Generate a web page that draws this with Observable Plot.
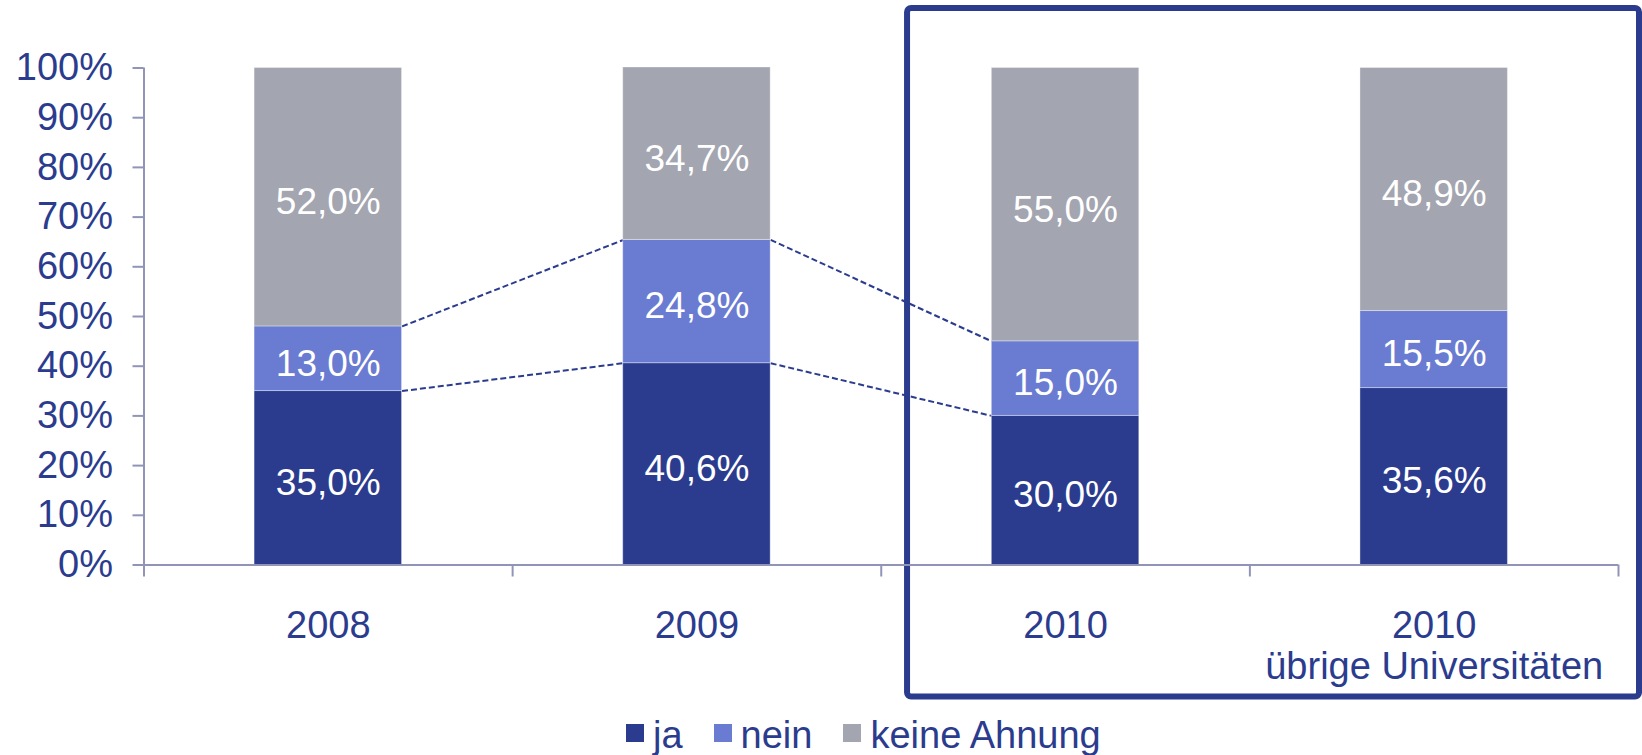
<!DOCTYPE html>
<html>
<head>
<meta charset="utf-8">
<script src="https://cdn.jsdelivr.net/npm/d3@7"></script>
<script src="https://cdn.jsdelivr.net/npm/@observablehq/plot@0.6"></script>
<style>
  html, body { margin: 0; padding: 0; background: #fff; }
  body { width: 1642px; height: 755px; overflow: hidden; font-family: "Liberation Sans", Arial, sans-serif; }
  #legend { display: flex; align-items: center; margin-top: 11px; margin-left: 626px; font-size: 38px; line-height: 38px; color: #2b3c8e; }
  #legend .item { display: flex; align-items: center; margin-right: 31px; }
  #legend .sw { width: 18px; height: 18px; margin-right: 9px; position: relative; top: -2px; }
</style>
</head>
<body>
<div id="chart"></div>
<div id="legend"></div>
<script>
// ---- data ----
const categories = ["2008", "2009", "2010", "2010\nübrige Universitäten"];
const series = ["ja", "nein", "keine Ahnung"];
const ja = [35.0, 40.6, 30.0, 35.6];
const nein = [13.0, 24.8, 15.0, 15.5];
const keineAhnung = [52.0, 34.7, 55.0, 48.9];
const colors = ["#2b3c8e", "#6a7bd2", "#a3a5b0"];
const yTicks = [0, 10, 20, 30, 40, 50, 60, 70, 80, 90, 100];
const connectedCategories = [0, 1, 2];   // joined by dashed lines
const connectedSeries = ["ja", "nein"];  // tops of these segments are joined
const highlighted = [2, 3];              // framed categories

// ---- derived tables ----
const values = {"ja": ja, "nein": nein, "keine Ahnung": keineAhnung};
const half = 0.2; // half bar width in category units
const rows = [];
const tops = {};
categories.forEach((c, i) => {
  let cum = 0;
  series.forEach(s => {
    const v = values[s][i];
    rows.push({i, series: s, y1: cum, y2: cum + v, label: v.toFixed(1).replace(".", ",") + "%"});
    cum += v;
    (tops[s] ??= [])[i] = cum;
  });
});
const links = [];
for (let j = 0; j < connectedCategories.length - 1; j++) {
  const a = connectedCategories[j], b = connectedCategories[j + 1];
  connectedSeries.forEach(s => links.push({x1: a + half, x2: b - half, y1: tops[s][a], y2: tops[s][b]}));
}
const boundaries = d3.range(-0.5, categories.length, 1);
const centers = categories.map((c, i) => i);

const navy = "#2b3c8e";
const axisColor = "#9095b8";

const plot = Plot.plot({
  width: 1642,
  height: 705,
  marginLeft: 143.5,
  marginRight: 24,
  marginTop: 67.5,
  marginBottom: 140.5,
  style: {fontFamily: '"Liberation Sans", Arial, sans-serif', color: navy, background: "white", overflow: "visible"},
  x: {type: "linear", domain: [-0.5, categories.length - 0.5]},
  y: {domain: [0, 100]},
  color: {domain: series, range: colors},
  marks: [
    Plot.rect([highlighted], {
      x1: d => d[0] - 0.5, x2: d => d[d.length - 1] + 0.5, y1: 0, y2: 100,
      insetLeft: 26.3, insetRight: -21, insetTop: -59.5, insetBottom: -132,
      fill: "none", stroke: navy, strokeWidth: 6, rx: 4
    }),
    Plot.link(links, {x1: "x1", x2: "x2", y1: "y1", y2: "y2", stroke: navy, strokeWidth: 2, strokeDasharray: "6,3"}),
    Plot.rect(rows, {x1: d => d.i - half, x2: d => d.i + half, y1: "y1", y2: "y2", fill: "series", stroke: "white", strokeOpacity: 0.35, strokeWidth: 1}),
    Plot.text(rows, {x: "i", y: d => (d.y1 + d.y2) / 2, text: "label", fill: "white", fontSize: 37, dy: 5}),
    Plot.ruleX([-0.5], {y1: 0, y2: 100, stroke: axisColor, strokeWidth: 2}),
    Plot.ruleY([0], {stroke: axisColor, strokeWidth: 2}),
    Plot.axisY({ticks: yTicks, tickFormat: d => `${d}%`, tickSize: 11, tickPadding: 20, fontSize: 38, stroke: axisColor, strokeWidth: 2, label: null}),
    Plot.axisX({ticks: boundaries, tickFormat: () => "", tickSize: 12, stroke: axisColor, strokeWidth: 2, label: null}),
    Plot.axisX({ticks: centers, tickFormat: i => categories[i], tickSize: 0, tickPadding: 44, fontSize: 38, lineHeight: 1.08, label: null})
  ]
});
document.getElementById("chart").append(plot);

const legend = d3.select("#legend");
series.forEach((s, k) => {
  const item = legend.append("div").attr("class", "item");
  item.append("div").attr("class", "sw").style("background", colors[k]);
  item.append("span").text(s);
});
</script>
</body>
</html>
